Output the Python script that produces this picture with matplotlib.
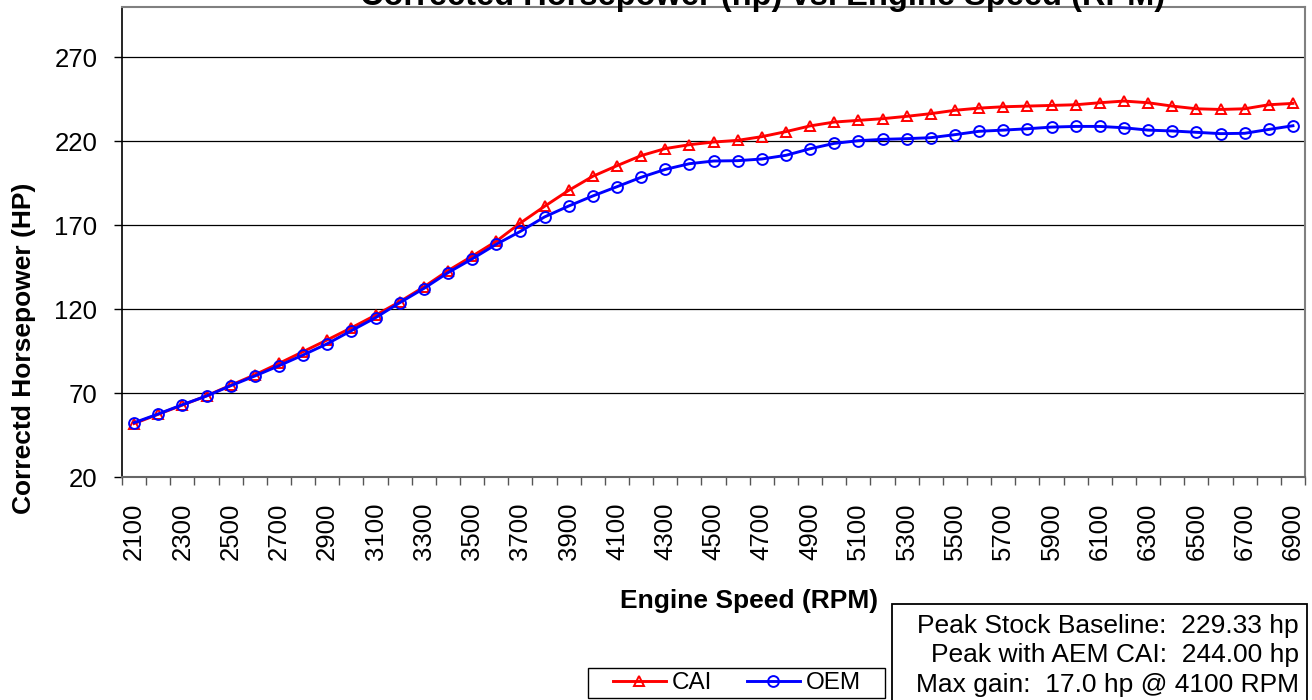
import matplotlib
matplotlib.use("Agg")
from matplotlib import pyplot as plt
from matplotlib.patches import Rectangle
import numpy as np

plt.rcParams['font.family'] = ['Liberation Sans', 'DejaVu Sans']

# engine speed categories (RPM)
rpm = list(range(2100, 7000, 100))

# corrected horsepower
cai = [52.0, 57.5, 63.0, 68.5, 74.8, 81.0, 87.8, 94.8, 101.8, 109.0,
       116.5, 124.5, 133.3, 143.0, 151.6, 160.5, 171.4, 181.3, 190.8, 199.2,
       205.5, 211.5, 215.7, 218.0, 219.6, 220.6, 222.8, 225.8, 229.2, 231.5,
       232.5, 233.5, 234.9, 236.5, 238.5, 239.8, 240.6, 241.0, 241.4, 241.8,
       243.0, 244.0, 243.0, 241.0, 239.4, 239.0, 239.4, 241.8, 242.6]
oem = [52.5, 57.7, 63.2, 68.4, 74.5, 80.3, 86.4, 92.8, 99.5, 107.3,
       115.0, 123.9, 132.4, 141.8, 150.0, 158.7, 166.4, 175.0, 181.5, 187.5,
       193.0, 198.6, 203.3, 206.7, 208.3, 208.5, 209.5, 211.7, 215.6, 218.8,
       220.4, 221.2, 221.6, 222.2, 224.0, 226.0, 226.7, 227.5, 228.5, 228.9,
       228.9, 228.1, 226.7, 226.2, 225.4, 224.6, 224.8, 227.1, 229.3]

y_ticks = [20, 70, 120, 170, 220, 270]
summary = ["Peak Stock Baseline:  229.33 hp",
           "Peak with AEM CAI:  244.00 hp",
           "Max gain:  17.0 hp @ 4100 RPM"]

W, H = 1312, 700
fig = plt.figure(figsize=(W / 100, H / 100), dpi=100)
ax = fig.add_axes([122 / W, (H - 477.3) / H, (1305 - 122) / W, (477.3 - 7) / H])

x = np.arange(len(rpm))
ax.plot(x, cai, color='#FF0000', lw=2.1, marker='^', ms=7.8, mfc='none',
        mec='#FF0000', mew=1.4, label='CAI', zorder=3)
ax.plot(x, oem, color='#0000FF', lw=2.1, marker='o', ms=7.8, mfc='none',
        mec='#0000FF', mew=1.4, label='OEM', zorder=4)

ax.set_xlim(-0.5, len(rpm) - 0.5)
ax.set_ylim(20, 300)

# labels on every other category, tick marks between categories
ax.set_xticks(x[::2])
ax.set_xticklabels([str(r) for r in rpm[::2]], rotation=90, fontsize=18.5)
ax.set_xticks(np.arange(-0.5, len(rpm), 1), minor=True)
ax.tick_params(axis='x', which='major', length=0, pad=18)
ax.tick_params(axis='x', which='minor', length=5.5, width=1, color='#555555')

ax.set_yticks(y_ticks)
ax.set_yticklabels([str(v) for v in y_ticks], fontsize=18.5)
ax.tick_params(axis='y', length=5.8, width=1, pad=12)

for v in y_ticks[1:]:
    ax.axhline(v, color='black', lw=0.9, zorder=1)

ax.spines['left'].set_color('black')
ax.spines['left'].set_linewidth(1.2)
ax.spines['bottom'].set_color('#666666')
ax.spines['bottom'].set_linewidth(1.5)
ax.spines['top'].set_color('#808080')
ax.spines['top'].set_linewidth(1.5)
ax.spines['right'].set_color('#808080')
ax.spines['right'].set_linewidth(1.5)

fig.text(763 / W, 1 - 5 / H, "Corrected Horsepower (hp) vs. Engine Speed (RPM)",
         ha='center', va='baseline', fontsize=23.5, weight='bold')
fig.text(749 / W, 1 - 601 / H, "Engine Speed (RPM)",
         ha='center', va='center', fontsize=19, weight='bold')
fig.text(24 / W, 1 - 348 / H, "Correctd Horsepower (HP)", rotation=90,
         ha='center', va='center', fontsize=19, weight='bold')

# legend frame drawn by hand so its size matches the original
leg_box = Rectangle((588 / W, 1 - 698 / H), (885 - 588) / W, 30 / H,
                    transform=fig.transFigure, facecolor='white',
                    edgecolor='black', lw=1.0)
fig.add_artist(leg_box)
leg = fig.legend(loc='center', bbox_to_anchor=(737 / W, 1 - 683 / H), ncol=2,
                 frameon=False, fontsize=17.5, handlelength=2.2,
                 columnspacing=1.4, borderpad=0.1, handletextpad=0.25)

box = Rectangle((892 / W, -0.05), (1307 - 892) / W, (H - 604) / H + 0.05,
                transform=fig.transFigure, facecolor='white', edgecolor='black',
                lw=1.3)
fig.add_artist(box)
fig.text(1299 / W, 1 - 614 / H, "\n".join(summary), ha='right', va='top',
         ma='right', fontsize=19, linespacing=1.28)

fig.savefig("out.png", dpi=100)
